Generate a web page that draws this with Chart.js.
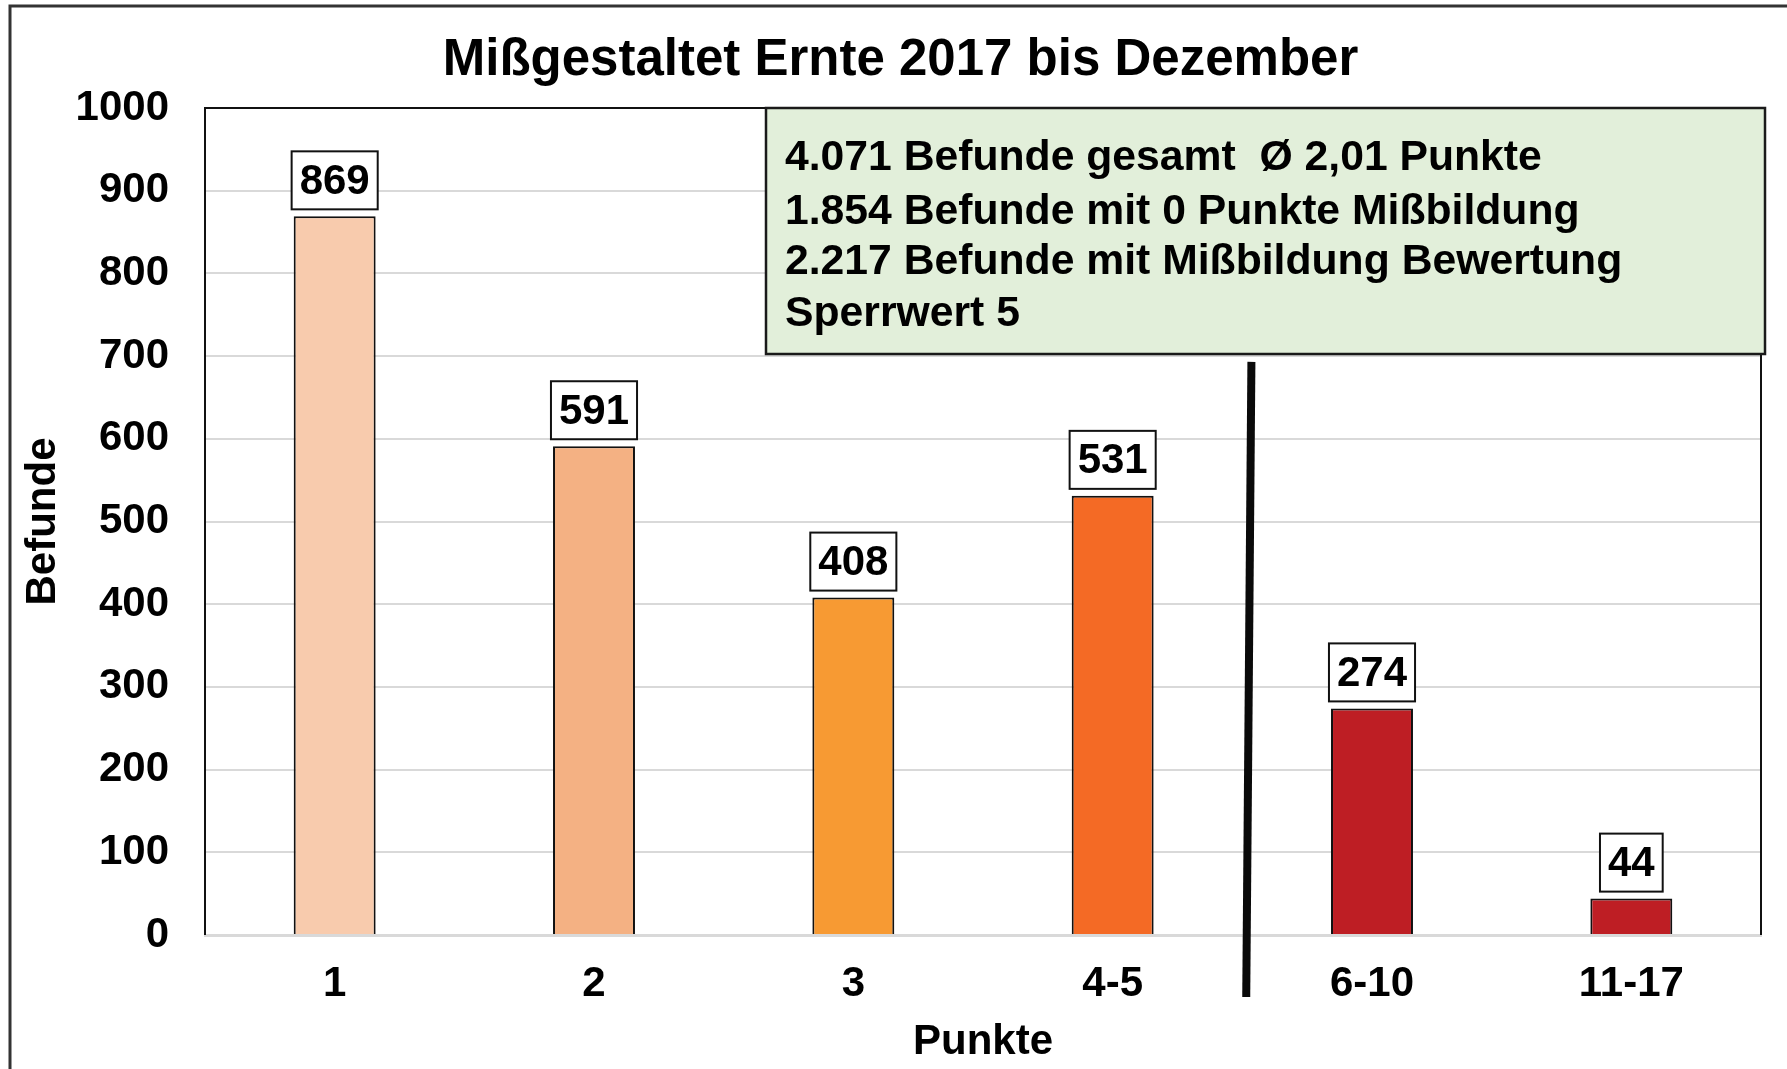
<!DOCTYPE html>
<html lang="de">
<head>
<meta charset="utf-8">
<title>Mißgestaltet Ernte 2017 bis Dezember</title>
<script src="https://cdn.jsdelivr.net/npm/chart.js@4/dist/chart.umd.min.js"></script>
<style>
  html, body { margin: 0; padding: 0; background: #fff; }
  canvas { display: block; }
</style>
</head>
<body>
<canvas id="chart" width="1787" height="1069"></canvas>
<script>
  const categories = ["1", "2", "3", "4-5", "6-10", "11-17"];
  const befunde = [869, 591, 408, 531, 274, 44];
  const barColors = ["#f8cbad", "#f4b183", "#f79a33", "#f46a25", "#be1e24", "#be1e24"];
  const yTicks = [0, 100, 200, 300, 400, 500, 600, 700, 800, 900, 1000];
  const infoLines = [
    "4.071 Befunde gesamt  Ø 2,01 Punkte",
    "1.854 Befunde mit 0 Punkte Mißbildung",
    "2.217 Befunde mit Mißbildung Bewertung",
    "Sperrwert 5"
  ];
  // divider between 4-5 and 6-10, in category / value units: [x top, y top, x bottom, y bottom]
  const divider = [3.535, 693, 3.515, -75];

  const FONT = "'Liberation Sans', Arial, Helvetica, sans-serif";

  const frame = {
    id: "frame",
    beforeDraw(chart) {
      const ctx = chart.ctx;
      ctx.save();
      ctx.strokeStyle = "#333";
      ctx.lineWidth = 3;
      ctx.beginPath();
      ctx.moveTo(10, 1080);
      ctx.lineTo(10, 6);
      ctx.lineTo(1800, 6);
      ctx.stroke();
      ctx.restore();
    },
    afterDatasetsDraw(chart) {
      const { ctx, chartArea: a, scales } = chart;
      ctx.save();
      // plot border left, top, right
      ctx.strokeStyle = "#111";
      ctx.lineWidth = 2;
      ctx.beginPath();
      ctx.moveTo(a.left, a.bottom);
      ctx.lineTo(a.left, a.top);
      ctx.lineTo(a.right, a.top);
      ctx.lineTo(a.right, a.bottom);
      ctx.stroke();

      // value labels in boxes
      const meta = chart.getDatasetMeta(0);
      ctx.font = "bold 42px " + FONT;
      ctx.textAlign = "center";
      ctx.textBaseline = "middle";
      meta.data.forEach((bar, i) => {
        const txt = String(befunde[i]);
        const w = ctx.measureText(txt).width + 16;
        const h = 58;
        const x = bar.x - w / 2;
        const y = bar.y - 7 - h;
        ctx.fillStyle = "#fff";
        ctx.fillRect(x, y, w, h);
        ctx.strokeStyle = "#111";
        ctx.lineWidth = 2;
        ctx.strokeRect(x, y, w, h);
        ctx.fillStyle = "#000";
        ctx.fillText(txt, bar.x, y + h / 2 + 2);
      });

      // divider line
      const xs = scales.x, ys = scales.y;
      ctx.strokeStyle = "#0a0a0a";
      ctx.lineWidth = 8;
      ctx.lineCap = "butt";
      ctx.beginPath();
      ctx.moveTo(xs.getPixelForValue(divider[0]), ys.getPixelForValue(divider[1]));
      ctx.lineTo(xs.getPixelForValue(divider[2]), ys.getPixelForValue(divider[3]));
      ctx.stroke();

      // info box
      const bx = 766, by = a.top, bw = 999, bh = 246;
      ctx.fillStyle = "#e2efda";
      ctx.fillRect(bx, by, bw, bh);
      ctx.strokeStyle = "#1a1a1a";
      ctx.lineWidth = 2.5;
      ctx.strokeRect(bx, by, bw, bh);
      ctx.fillStyle = "#000";
      ctx.font = "bold 42.7px " + FONT;
      ctx.textAlign = "left";
      ctx.textBaseline = "middle";
      const lineY = [158, 212, 262, 314];
      infoLines.forEach((t, i) => ctx.fillText(t, 785, lineY[i]));
      ctx.restore();
    }
  };

  new Chart(document.getElementById("chart"), {
    type: "bar",
    data: {
      labels: categories,
      datasets: [{
        label: "Befunde",
        data: befunde,
        backgroundColor: barColors,
        borderColor: "#111",
        borderWidth: 2,
        borderSkipped: "bottom",
        barPercentage: 0.316,
        categoryPercentage: 1
      }]
    },
    options: {
      responsive: false,
      animation: false,
      layout: { padding: { left: 40, right: 26, top: 0, bottom: 0 } },
      plugins: {
        legend: { display: false },
        tooltip: { enabled: false },
        title: {
          display: true,
          text: "Mißgestaltet Ernte 2017 bis Dezember",
          color: "#000",
          font: { family: FONT, size: 51, weight: "bold", lineHeight: 1.2 },
          padding: { top: 30, bottom: 16.8 }
        }
      },
      scales: {
        x: {
          grid: { display: false, drawTicks: false },
          border: { display: true, color: "#d9d9d9", width: 3 },
          ticks: { color: "#000", padding: 24, font: { family: FONT, size: 42, weight: "bold" } },
          title: {
            display: true,
            text: "Punkte",
            color: "#000",
            font: { family: FONT, size: 42, weight: "bold", lineHeight: 1.2 },
            padding: { top: 0, bottom: 1 }
          },
          afterFit(scale) { scale.height = 134; }
        },
        y: {
          min: 0,
          max: 1000,
          afterBuildTicks(scale) { scale.ticks = yTicks.map(v => ({ value: v })); },
          grid: { color: "#d9d9d9", lineWidth: 2, drawTicks: false },
          border: { display: false },
          ticks: {
            color: "#000",
            padding: 36,
            font: { family: FONT, size: 42, weight: "bold" },
            callback: v => String(v)
          },
          title: {
            display: true,
            text: "Befunde",
            color: "#000",
            font: { family: FONT, size: 42, weight: "bold", lineHeight: 1.2 },
            padding: { top: -22, bottom: 0 }
          },
          afterFit(scale) { scale.width = 165; }
        }
      }
    },
    plugins: [frame]
  });
</script>
</body>
</html>
